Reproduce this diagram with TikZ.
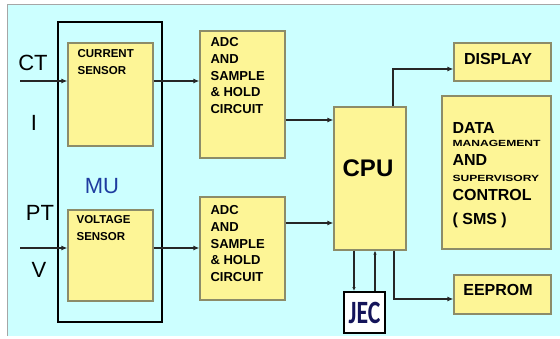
\documentclass[tikz,border=0pt]{standalone}
\usepackage{fontspec}
\setmainfont{Liberation Sans}
\newfontfamily\jecfont{Carlito}
\usetikzlibrary{
	arrows.meta,
	positioning
}
\definecolor{PaleCyan}{RGB}{204,255,255}
\definecolor{PaleYellow}{RGB}{253,245,150}
\definecolor{BoxEdge}{RGB}{140,140,105}
\definecolor{DarkBlue}{RGB}{30,60,160}
\definecolor{JecBlue}{RGB}{20,20,90}

\tikzset{
	block/.style={draw=BoxEdge, fill=PaleYellow, line width=1.2pt, inner sep=0pt},
	sig/.style={-{Latex[length=6pt,width=5pt]}, line width=1.2pt, draw=black!85},
	tinysig/.style={-{Latex[length=4pt,width=3.5pt]}, line width=1.2pt, draw=black!85},
	boxtext/.style={align=left, inner sep=0pt, anchor=north west},
	bigtext/.style={inner sep=0pt, font=\fontsize{22}{22}\selectfont}
}
\newcommand{\smallcaps}[1]{\scalebox{1.15}[0.85]{\fontsize{10.5}{10.5}\selectfont #1}}

\begin{document}
\begin{tikzpicture}[x=1pt, y=-1pt]
		\useasboundingbox (0,0) rectangle (560,338);
		
		% background
		\fill[PaleCyan] (7,4) rectangle (560,336);
		\draw[gray!70, line width=1pt] (7,336) -- (7,4) -- (560,4);
		
		% measuring unit
		\node[draw, line width=1.2pt, minimum width=104pt, minimum height=300pt, inner sep=0pt] (mu) at (110,172) {};
		\node[block, minimum width=85pt, minimum height=103pt] (cur) at (110.5,94.5) {};
		\node[block, minimum width=85pt, minimum height=91pt] (vol) at (110.5,255.5) {};
		\node[bigtext, text=DarkBlue] (mulbl) at (102,186) {MU};
		
		% converters
		\node[block, minimum width=85pt, minimum height=127pt] (adc1) at (242.5,94.5) {};
		\node[block, minimum width=85pt, minimum height=103pt] (adc2) at (242.5,248.5) {};
		
		% processor and outputs
		\node[block, minimum width=72pt, minimum height=143pt] (cpu) at (370,178.5) {};
		\node[block, minimum width=97pt, minimum height=38pt] (disp) at (502.5,62) {};
		\node[block, minimum width=109pt, minimum height=153pt] (dms) at (496.5,172.5) {};
		\node[block, minimum width=97pt, minimum height=39pt] (eep) at (502.5,294.5) {};
		\node[draw, fill=white, line width=2pt, minimum width=41pt, minimum height=41pt, inner sep=0pt] (jec) at (364.5,312.5) {};
		
		% box texts
		\node[boxtext, font=\bfseries\fontsize{11.5}{17}\selectfont, below right=7pt and 10pt of cur.north west] (curlbl) {CURRENT\\SENSOR};
		\node[boxtext, font=\bfseries\fontsize{11.5}{17}\selectfont, below right=6pt and 9pt of vol.north west] (vollbl) {VOLTAGE\\SENSOR};
		\node[boxtext, font=\bfseries\fontsize{13}{16.7}\selectfont, below right=7pt and 11pt of adc1.north west] (adc1lbl) {ADC\\AND\\SAMPLE\\\& HOLD\\CIRCUIT};
		\node[boxtext, font=\bfseries\fontsize{13}{16.7}\selectfont, below right=9pt and 11pt of adc2.north west] (adc2lbl) {ADC\\AND\\SAMPLE\\\& HOLD\\CIRCUIT};
		\node[inner sep=0pt, font=\bfseries\fontsize{24}{24}\selectfont] (cpulbl) at (368,168) {CPU};
		\node[inner sep=0pt, font=\bfseries\fontsize{16}{16}\selectfont] (displbl) at (498,59) {DISPLAY};
		\node[inner sep=0pt, font=\bfseries\fontsize{16}{16}\selectfont] (eeplbl) at (498,290) {EEPROM};
		\node[boxtext, font=\bfseries\fontsize{16}{17}\selectfont, below right=27pt and 11pt of dms.north west] (dmslbl)
			{DATA\\[-4pt]\smallcaps{MANAGEMENT}\\[2pt]AND\\[-1pt]\smallcaps{SUPERVISORY}\\[2pt]CONTROL\\[7pt]( SMS )};
		\node[inner sep=0pt, font=\jecfont\bfseries\fontsize{25}{25}\selectfont, text=JecBlue] (jeclbl) at (364.5,313) {\scalebox{0.95}[1.3]{JEC}};
		
		% input labels
		\node[bigtext] (ctlbl) at (33,63) {CT};
		\node[bigtext] (ilbl) at (34,123) {I};
		\node[bigtext] (ptlbl) at (40,213) {PT};
		\node[bigtext] (vlbl) at (39,270) {V};
		
		% signal paths
		\coordinate (ctin) at (20,81);
		\coordinate (ptin) at (20,248);
		\draw[sig] (ctin) -- (ctin -| cur.west);
		\draw[sig] (ptin) -- (ptin -| vol.west);
		\draw[sig] (ctin -| cur.east) -- (ctin -| adc1.west);
		\draw[sig] (ptin -| vol.east) -- (ptin -| adc2.west);
		\draw[sig] (adc1.east |- 0,120) -- (cpu.west |- 0,120);
		\draw[sig] (adc2.east |- 0,223) -- (cpu.west |- 0,223);
		\draw[sig] (cpu.north -| 393,0) |- (disp.west |- 0,69);
		\draw[sig] (cpu.south -| 394,0) |- (eep.west |- 0,299);
		\draw[tinysig] (cpu.south -| 354,0) -- (jec.north -| 354,0);
		\draw[tinysig] (jec.north -| 375,0) -- (cpu.south -| 375,0);
	\end{tikzpicture}
\end{document}
